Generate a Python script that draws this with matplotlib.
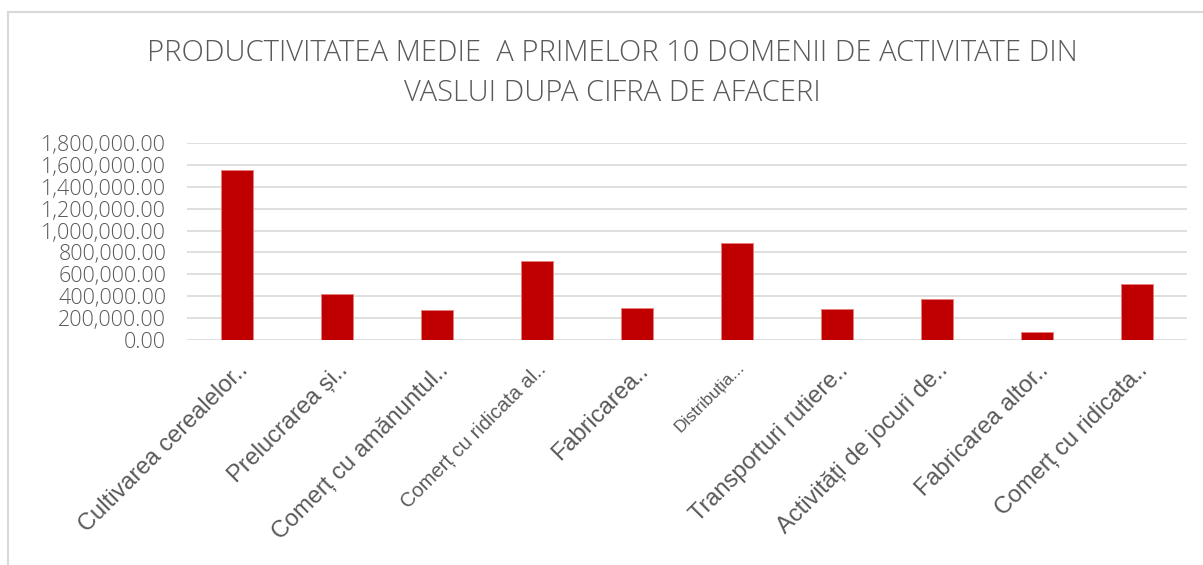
import matplotlib
matplotlib.use("Agg")
import matplotlib.pyplot as plt
from matplotlib.ticker import FuncFormatter
from matplotlib.lines import Line2D
from matplotlib.transforms import ScaledTranslation

categories = [
    "Cultivarea cerealelor..",
    "Prelucrarea și..",
    "Comerț cu amănuntul..",
    "Comerț cu ridicata al..",
    "Fabricarea..",
    "Distribuția...",
    "Transporturi rutiere..",
    "Activități de jocuri de..",
    "Fabricarea altor..",
    "Comerț cu ridicata..",
]
values = [1555000, 418000, 274000, 723000, 296000, 885000, 284000, 379000, 73000, 508000]
label_sizes = [17, 17, 17, 14.5, 17, 12.5, 17, 17, 17, 17]

title = "PRODUCTIVITATEA MEDIE  A PRIMELOR 10 DOMENII DE ACTIVITATE DIN\nVASLUI DUPA CIFRA DE AFACERI"

W, H = 1203, 565
fig = plt.figure(figsize=(W / 100, H / 100), dpi=100)
ax = fig.add_axes([187 / W, (H - 340) / H, (1187 - 187) / W, (340 - 143) / H])

grey = "#595959"
ax.bar(range(len(values)), values, width=0.32, color="#C00000", edgecolor="#E88080", linewidth=0.6, zorder=3)
ax.set_xlim(-0.5, len(values) - 0.5)
ax.set_ylim(0, 1800000)
ax.set_yticks(range(0, 1800001, 200000))
ax.yaxis.set_major_formatter(FuncFormatter(lambda v, p: f"{v:,.2f}"))
ax.grid(axis="y", color="#D9D9D9", linewidth=1.2, zorder=0)
for s in ax.spines.values():
    s.set_visible(False)
ax.tick_params(axis="both", length=0)
ax.tick_params(axis="y", labelsize=15.5, labelcolor=grey, pad=15)
for lab in ax.get_yticklabels():
    lab.set_fontfamily("Open Sans")
    lab.set_fontweight("light")

ax.set_xticks(range(len(values)))
ax.set_xticklabels(categories)
shift = ScaledTranslation(4 / 100, 2 / 100, fig.dpi_scale_trans)
for lab, sz in zip(ax.get_xticklabels(), label_sizes):
    lab.set_rotation(45)
    lab.set_ha("right")
    lab.set_va("top")
    lab.set_rotation_mode("anchor")
    lab.set_fontsize(sz)
    lab.set_color(grey)
    lab.set_fontfamily("Liberation Sans")
    lab.set_transform(lab.get_transform() + shift)
ax.tick_params(axis="x", pad=14)

fig.text(612 / W, 1 - 73 / H, title, ha="center", va="center", fontsize=21,
         color=grey, fontfamily="Open Sans", fontweight="light", linespacing=1.45)

# chart frame (left and top edges)
fig.add_artist(Line2D([7.5 / W, 7.5 / W], [0, 1 - 12 / H], color="#D9D9D9", linewidth=1.5, transform=fig.transFigure))
fig.add_artist(Line2D([7.5 / W, 1], [1 - 12 / H, 1 - 12 / H], color="#D9D9D9", linewidth=1.5, transform=fig.transFigure))

fig.savefig("out.png", dpi=100, facecolor="white")
